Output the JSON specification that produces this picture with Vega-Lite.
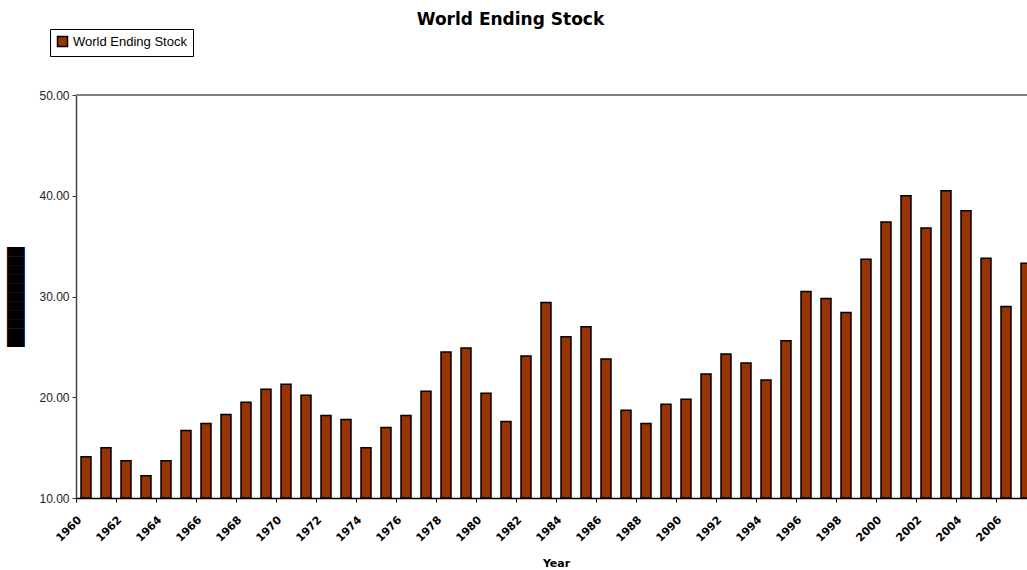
{
  "$schema": "https://vega.github.io/schema/vega-lite/v6.json",
  "width": 951,
  "height": 403,
  "autosize": {"type": "none"},
  "padding": {"left": 76, "top": 95, "right": 0, "bottom": 72},
  "background": "white",
  "title": {"text": "World Ending Stock", "font": "DejaVu Sans", "fontSize": 17, "fontWeight": "bold", "color": "black", "anchor": "middle", "frame": "group", "dx": -41, "offset": 0},
  "config": {"view": {"stroke": null}},
  "data": {"values": [
    {"year": 1960, "stock": 14.1}, {"year": 1961, "stock": 15.0}, {"year": 1962, "stock": 13.7}, {"year": 1963, "stock": 12.2},
    {"year": 1964, "stock": 13.7}, {"year": 1965, "stock": 16.7}, {"year": 1966, "stock": 17.4}, {"year": 1967, "stock": 18.3},
    {"year": 1968, "stock": 19.5}, {"year": 1969, "stock": 20.8}, {"year": 1970, "stock": 21.3}, {"year": 1971, "stock": 20.2},
    {"year": 1972, "stock": 18.2}, {"year": 1973, "stock": 17.8}, {"year": 1974, "stock": 15.0}, {"year": 1975, "stock": 17.0},
    {"year": 1976, "stock": 18.2}, {"year": 1977, "stock": 20.6}, {"year": 1978, "stock": 24.5}, {"year": 1979, "stock": 24.9},
    {"year": 1980, "stock": 20.4}, {"year": 1981, "stock": 17.6}, {"year": 1982, "stock": 24.1}, {"year": 1983, "stock": 29.4},
    {"year": 1984, "stock": 26.0}, {"year": 1985, "stock": 27.0}, {"year": 1986, "stock": 23.8}, {"year": 1987, "stock": 18.7},
    {"year": 1988, "stock": 17.4}, {"year": 1989, "stock": 19.3}, {"year": 1990, "stock": 19.8}, {"year": 1991, "stock": 22.3},
    {"year": 1992, "stock": 24.3}, {"year": 1993, "stock": 23.4}, {"year": 1994, "stock": 21.7}, {"year": 1995, "stock": 25.6},
    {"year": 1996, "stock": 30.5}, {"year": 1997, "stock": 29.8}, {"year": 1998, "stock": 28.4}, {"year": 1999, "stock": 33.7},
    {"year": 2000, "stock": 37.4}, {"year": 2001, "stock": 40.0}, {"year": 2002, "stock": 36.8}, {"year": 2003, "stock": 40.5},
    {"year": 2004, "stock": 38.5}, {"year": 2005, "stock": 33.8}, {"year": 2006, "stock": 29.0}, {"year": 2007, "stock": 33.3}
  ]},
  "layer": [
    {
      "mark": {"type": "bar", "width": {"band": 0.5}, "stroke": "black", "strokeWidth": 1.5},
      "encoding": {
        "x": {
          "field": "year", "type": "ordinal",
          "scale": {"range": [0, 960], "paddingInner": 0, "paddingOuter": 0},
          "axis": {
            "values": [1960, 1962, 1964, 1966, 1968, 1970, 1972, 1974, 1976, 1978, 1980, 1982, 1984, 1986, 1988, 1990, 1992, 1994, 1996, 1998, 2000, 2002, 2004, 2006],
            "bandPosition": 0,
            "labelAngle": -45, "labelAlign": "right", "labelBaseline": "middle",
            "labelFont": "DejaVu Sans", "labelFontSize": 11, "labelFontWeight": "bold", "labelColor": "black",
            "labelPadding": 16, "labelOffset": -6,
            "tickSize": 4, "tickColor": "black", "domainColor": "black", "domainWidth": 1.5,
            "title": "Year", "titleFont": "DejaVu Sans", "titleFontSize": 11, "titleFontWeight": "bold", "titleColor": "black",
            "titleY": 65, "titleBaseline": "middle", "titleX": 480, "titleAlign": "center"
          }
        },
        "y": {
          "field": "stock", "type": "quantitative",
          "scale": {"domain": [10, 50], "zero": false, "nice": false},
          "axis": {
            "values": [10, 20, 30, 40, 50], "format": ".2f", "grid": false,
            "labelFont": "Liberation Sans", "labelFontSize": 12, "labelColor": "#222", "labelPadding": 3,
            "tickSize": 4, "tickColor": "#333", "domainColor": "#444", "domainWidth": 1.5,
            "title": "███████████", "titleFont": "DejaVu Sans Mono", "titleFontSize": 15, "titleColor": "black",
            "titleAngle": -90, "titleX": -61, "titleY": 201.5, "titleBaseline": "middle", "titleAlign": "center"
          }
        },
        "y2": {"datum": 10},
        "color": {
          "datum": "World Ending Stock", "type": "nominal",
          "scale": {"range": ["#993300"]},
          "legend": {
            "title": null, "orient": "none", "legendX": -26, "legendY": -66,
            "strokeColor": "black", "fillColor": "white", "padding": 6,
            "symbolType": "square", "symbolSize": 100, "symbolStrokeColor": "black", "symbolStrokeWidth": 1.5,
            "labelFont": "Liberation Sans", "labelFontSize": 13, "labelColor": "black", "labelOffset": 4
          }
        }
      }
    },
    {
      "mark": {"type": "rule", "color": "#808080", "strokeWidth": 1.5},
      "encoding": {"y": {"datum": 50}}
    }
  ]
}
